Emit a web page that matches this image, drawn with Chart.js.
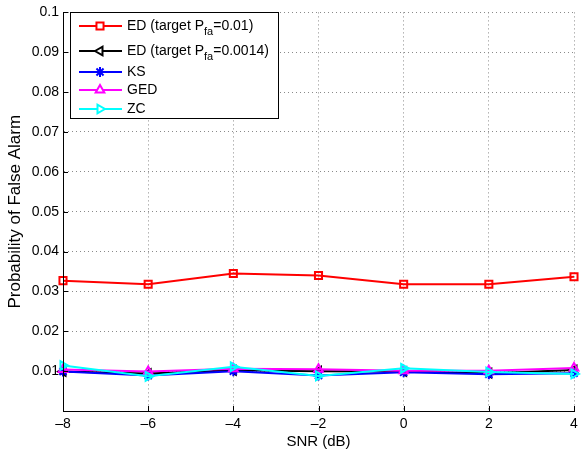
<!doctype html>
<html lang="en">
<head>
  <meta charset="utf-8">
  <title>Probability of False Alarm vs SNR</title>
  <style>
    body { margin: 0; background: #fff; }
    #wrap { width: 581px; height: 457px; }
  </style>
</head>
<body>
  <div id="wrap"><canvas id="myChart" width="581" height="457"></canvas></div>
  <script src="https://cdn.jsdelivr.net/npm/chart.js"></script>
  <script>
    // SNR values (dB)
    const snr = [-8, -6, -4, -2, 0, 2, 4];
    // series
    const edTarget01 = [0.0327, 0.0318, 0.0345, 0.0340, 0.0318, 0.0318, 0.0337];
    const edTarget0014 = [0.0099, 0.0094, 0.0102, 0.0100, 0.0099, 0.0095, 0.0103];
    const ks = [0.0099, 0.0089, 0.0100, 0.0089, 0.0097, 0.0092, 0.0095];
    const ged = [0.0104, 0.0099, 0.0106, 0.0105, 0.0101, 0.0101, 0.0108];
    const zc = [0.0114, 0.0087, 0.0111, 0.0088, 0.0107, 0.0098, 0.0093];
    const yTicks = [0, 0.01, 0.02, 0.03, 0.04, 0.05, 0.06, 0.07, 0.08, 0.09, 0.1];

    const FONT = 'Liberation Sans, Arial, Helvetica, sans-serif';

    const series = [
      { name: 'ED (target P', sub: 'fa', tail: '=0.01)', values: edTarget01, color: '#ff0000', style: 'rect', rot: 0, order: 5 },
      { name: 'ED (target P', sub: 'fa', tail: '=0.0014)', values: edTarget0014, color: '#000000', style: 'triangle', rot: -90, order: 4 },
      { name: 'KS', values: ks, color: '#0000ff', style: 'star', rot: 0, order: 3 },
      { name: 'GED', values: ged, color: '#ff00ff', style: 'triangle', rot: 0, order: 2 },
      { name: 'ZC', values: zc, color: '#00ffff', style: 'triangle', rot: 90, order: 1 }
    ];

    // legend box drawn by hand so the subscript can be shown
    const legendBox = {
      id: 'legendBox',
      afterDraw(chart) {
        const ctx = chart.ctx;
        const x0 = 70, y0 = 12, w = 208, h = 106;
        const rows = [26, 51, 72, 90, 109];
        ctx.save();
        ctx.fillStyle = '#fff';
        ctx.fillRect(x0, y0, w, h);
        ctx.strokeStyle = '#000';
        ctx.lineWidth = 1;
        ctx.strokeRect(x0 + 0.5, y0 + 0.5, w, h);
        series.forEach((s, i) => {
          const y = rows[i];
          ctx.strokeStyle = s.color;
          ctx.lineWidth = 2;
          ctx.beginPath();
          ctx.moveTo(79, y);
          ctx.lineTo(122, y);
          ctx.stroke();
          ctx.fillStyle = '#fff';
          Chart.helpers.drawPoint(ctx, {
            pointStyle: s.style, radius: 5, rotation: s.rot, borderWidth: 2
          }, 100, y);
          ctx.fillStyle = '#000';
          ctx.textBaseline = 'middle';
          ctx.font = '14px ' + FONT;
          let tx = 127;
          ctx.fillText(s.name, tx, y);
          if (s.sub) {
            tx += ctx.measureText(s.name).width;
            ctx.font = '11px ' + FONT;
            ctx.fillText(s.sub, tx, y + 6);
            tx += ctx.measureText(s.sub).width;
            ctx.font = '14px ' + FONT;
            ctx.fillText(s.tail, tx, y);
          }
        });
        ctx.restore();
      }
    };

    // solid left/bottom axes with small inward ticks
    const solidAxes = {
      id: 'solidAxes',
      afterDraw(chart) {
        const a = chart.chartArea, ctx = chart.ctx;
        ctx.save();
        ctx.strokeStyle = '#000';
        ctx.lineWidth = 1;
        ctx.setLineDash([]);
        ctx.beginPath();
        ctx.moveTo(a.left + 0.5, a.top);
        ctx.lineTo(a.left + 0.5, a.bottom + 0.5);
        ctx.lineTo(a.right, a.bottom + 0.5);
        chart.scales.x.ticks.forEach(t => {
          const px = Math.round(chart.scales.x.getPixelForValue(t.value)) + 0.5;
          ctx.moveTo(px, a.bottom);
          ctx.lineTo(px, a.bottom - 5);
        });
        chart.scales.y.ticks.forEach(t => {
          const py = Math.round(chart.scales.y.getPixelForValue(t.value)) + 0.5;
          ctx.moveTo(a.left, py);
          ctx.lineTo(a.left + 5, py);
        });
        ctx.stroke();
        ctx.restore();
      }
    };

    new Chart(document.getElementById('myChart'), {
      type: 'line',
      data: {
        datasets: series.map(s => ({
          label: s.name + (s.sub || '') + (s.tail || ''),
          data: snr.map((x, i) => ({ x: x, y: s.values[i] })),
          borderColor: s.color,
          backgroundColor: 'rgba(0,0,0,0)',
          pointBorderColor: s.color,
          pointBackgroundColor: 'rgba(0,0,0,0)',
          pointStyle: s.style,
          rotation: s.rot,
          pointRadius: 5,
          pointBorderWidth: 2,
          borderWidth: 2,
          tension: 0,
          clip: false,
          order: s.order
        }))
      },
      options: {
        responsive: false,
        animation: false,
        layout: { padding: { top: 7, right: 2, left: 0, bottom: 0 } },
        plugins: {
          legend: { display: false },
          tooltip: { enabled: false }
        },
        scales: {
          x: {
            type: 'linear',
            min: -8,
            max: 4,
            afterFit: (scale) => {
              scale.height = 46;
              scale.paddingLeft = 0;
              scale.paddingRight = 0;
            },
            ticks: {
              stepSize: 2,
              color: '#000',
              font: { family: FONT, size: 14 },
              padding: 5,
              maxRotation: 0,
              callback: v => String(v).replace('-', '\u2013')
            },
            grid: { color: '#8a8a8a', lineWidth: 1, drawTicks: false },
            border: { color: '#000', width: 1, dash: [1, 3] },
            title: {
              display: true, text: 'SNR (dB)', color: '#000',
              font: { family: FONT, size: 15 }, padding: { top: 0, bottom: 6 }
            }
          },
          y: {
            min: 0,
            max: 0.1,
            afterFit: (scale) => { scale.width = 63; },
            afterBuildTicks: (scale) => { scale.ticks = yTicks.map(v => ({ value: v })); },
            ticks: {
              color: '#000',
              font: { family: FONT, size: 14 },
              padding: 4,
              callback: v => v === 0 ? '' : String(+v.toFixed(2))
            },
            grid: { color: '#8a8a8a', lineWidth: 1, drawTicks: false },
            border: { color: '#000', width: 1, dash: [1, 3] },
            title: {
              display: true, text: 'Probability of False Alarm', color: '#000',
              font: { family: FONT, size: 17 }, padding: { top: 5, bottom: 0 }
            }
          }
        }
      },
      plugins: [legendBox, solidAxes]
    });
  </script>
</body>
</html>
